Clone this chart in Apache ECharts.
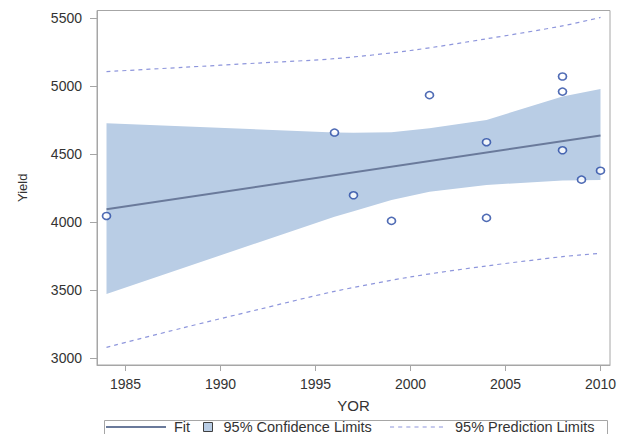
<!DOCTYPE html>
<html>
<head>
<meta charset="utf-8">
<script src="https://cdn.jsdelivr.net/npm/echarts@6/dist/echarts.min.js"></script>
<style>html,body{margin:0;padding:0;background:#fff;}#c{width:629px;height:434px;}</style>
</head>
<body>
<div id="c"></div>
<script>
// Observed data
const obsYear  = [1984, 1996, 1997, 1999, 2001, 2004, 2004, 2008, 2008, 2008, 2009, 2010];
const obsYield = [4046, 4659, 4198, 4010, 4934, 4588, 4032, 5071, 4960, 4529, 4313, 4379];
// Fit line
const fitYear  = [1984, 2010];
const fitYield = [4096, 4637];
// 95% confidence band
const ciYear   = [1984, 1996, 1997, 1999, 2001, 2004, 2008, 2009, 2010];
const ciUpper  = [4728, 4659, 4658, 4662, 4690, 4752, 4924, 4952, 4980];
const ciLower  = [3473, 4041, 4080, 4164, 4225, 4274, 4306, 4309, 4311];
// 95% prediction limits
const piYear   = [1984, 1988, 1992, 1996, 2000, 2004, 2008, 2010];
const piUpper  = [5107, 5138, 5170, 5202, 5262, 5348, 5443, 5505];
const piLower  = [3081, 3223, 3359, 3492, 3598, 3679, 3747, 3772];
// Tick labels
const xTicks = [1985, 1990, 1995, 2000, 2005, 2010];
const yTicks = [3000, 3500, 4000, 4500, 5000, 5500];

const FONT = 'Liberation Sans, Arial, sans-serif';
const chart = echarts.init(document.getElementById('c'), null, {renderer: 'svg'});
const zip = (a, b) => a.map((v, i) => [v, b[i]]);
const plain = v => String(v);

const fitIcon = 'path://M0,4h60v2h-60z';
let dashPath = 'path://';
for (let k = 0; k < 7; k++) dashPath += 'M' + (k * 8) + ',0h4v1.2h-4z ';

chart.setOption({
  animation: false,
  grid: {left: 97, right: 19, top: 10.5, bottom: 69, show: true, borderColor: '#a6a6a6', borderWidth: 1, containLabel: false},
  xAxis: {
    type: 'value', min: 1983.5, max: 2010.5,
    name: 'YOR', nameLocation: 'middle', nameGap: 33,
    nameTextStyle: {fontFamily: FONT, fontSize: 15, color: '#333'},
    axisLine: {show: true, lineStyle: {color: '#a6a6a6'}},
    axisTick: {show: true, length: 6, customValues: xTicks, lineStyle: {color: '#a6a6a6'}},
    axisLabel: {customValues: xTicks, formatter: plain, margin: 12, fontFamily: FONT, fontSize: 14, color: '#333'},
    splitLine: {show: false}
  },
  yAxis: {
    type: 'value', min: 2951, max: 5556,
    name: 'Yield', nameLocation: 'middle', nameGap: 68, nameRotate: 90,
    nameTextStyle: {fontFamily: FONT, fontSize: 13, color: '#333'},
    axisLine: {show: true, lineStyle: {color: '#a6a6a6'}},
    axisTick: {show: true, length: 7, customValues: yTicks, lineStyle: {color: '#a6a6a6'}},
    axisLabel: {customValues: yTicks, formatter: plain, margin: 15, fontFamily: FONT, fontSize: 14, color: '#333'},
    splitLine: {show: false}
  },
  legend: [
    {data: [{name: 'Fit', icon: fitIcon}], left: 106, top: 419, padding: 0, itemWidth: 60, itemHeight: 10,
     textStyle: {fontFamily: FONT, fontSize: 14.5, color: '#333', padding: [0, 0, 0, 3], lineHeight: 16}},
    {data: [{name: '95% Confidence Limits', icon: 'rect', itemStyle: {color: '#b9cde5', borderColor: '#404040', borderWidth: 1}}],
     left: 203, top: 419, padding: 0, itemWidth: 9, itemHeight: 9,
     textStyle: {fontFamily: FONT, fontSize: 14.5, color: '#333', padding: [0, 0, 0, 6], lineHeight: 16}},
    {data: [{name: '95% Prediction Limits', icon: dashPath}], left: 390, top: 419, padding: 0, itemWidth: 53, itemHeight: 10,
     textStyle: {fontFamily: FONT, fontSize: 14.5, color: '#333', padding: [0, 0, 0, 7], lineHeight: 16}}
  ],
  graphic: [
    {type: 'rect', left: 102, top: 418, shape: {width: 503, height: 30}, style: {fill: 'none', stroke: '#a6a6a6', lineWidth: 1}, silent: true}
  ],
  series: [
    {
      name: '95% Confidence Limits', type: 'custom', z: 1,
      itemStyle: {color: '#b9cde5'},
      data: ciYear.map((y, i) => [y, ciLower[i], ciUpper[i]]),
      encode: {x: 0, y: [1, 2]},
      renderItem: function (params, api) {
        if (params.dataIndex !== 0) return null;
        const pts = [];
        for (let i = 0; i < ciYear.length; i++) pts.push(api.coord([ciYear[i], ciUpper[i]]));
        for (let i = ciYear.length - 1; i >= 0; i--) pts.push(api.coord([ciYear[i], ciLower[i]]));
        return {type: 'polygon', shape: {points: pts}, style: {fill: '#b9cde5', stroke: null}};
      }
    },
    {
      name: 'Fit', type: 'line', z: 3, symbol: 'none',
      data: zip(fitYear, fitYield),
      lineStyle: {color: '#6a7a9b', width: 2}, itemStyle: {color: '#6a7a9b'}
    },
    {
      name: '95% Prediction Limits', type: 'line', z: 3, symbol: 'none', smooth: 0.3,
      data: zip(piYear, piUpper),
      lineStyle: {color: '#8e96dc', width: 1.2, type: [4, 4]}, itemStyle: {color: '#8e96dc'}
    },
    {
      name: '95% Prediction Limits', type: 'line', z: 3, symbol: 'none', smooth: 0.3,
      data: zip(piYear, piLower),
      lineStyle: {color: '#8e96dc', width: 1.2, type: [4, 4]}, itemStyle: {color: '#8e96dc'}
    },
    {
      name: 'Observed', type: 'scatter', z: 5,
      symbol: 'circle', symbolSize: [8, 7],
      itemStyle: {color: '#ffffff', borderColor: '#2447a3', borderWidth: 1.6},
      data: zip(obsYear, obsYield)
    }
  ]
});
</script>
</body>
</html>
